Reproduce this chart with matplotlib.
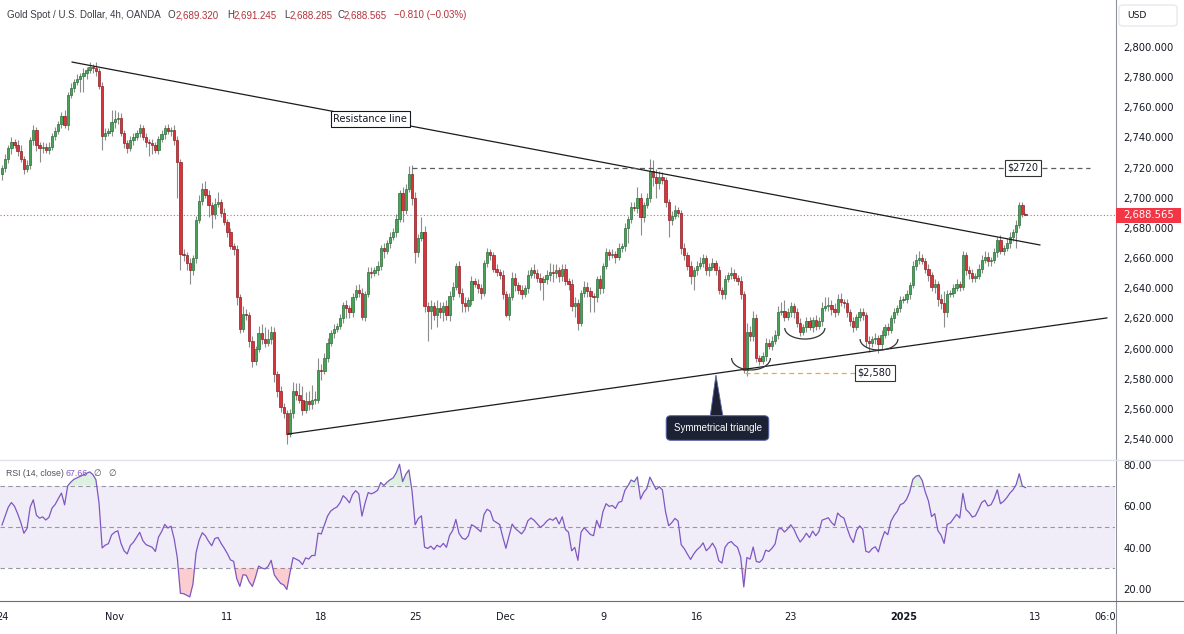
import matplotlib
matplotlib.use('Agg')
import matplotlib.pyplot as plt
import numpy as np
from matplotlib.patches import Arc, Polygon, Rectangle, FancyBboxPatch
from matplotlib.lines import Line2D

plt.rcParams['font.family'] = ['Liberation Sans', 'DejaVu Sans']
AXIS_FONT = ['DejaVu Sans']

# ---------------- data (4h candles, XAU/USD) ----------------
FIRST_OPEN = 2716.0
CLOSES = [
    2720, 2726, 2733, 2737, 2735, 2731, 2726, 2719, 2722, 2738,
    2745, 2735, 2733, 2734, 2732, 2734, 2741, 2744, 2749, 2754,
    2748, 2768, 2773, 2777, 2779, 2781, 2783, 2785, 2787, 2786,
    2784, 2774, 2741, 2743, 2744, 2750, 2752, 2753, 2743, 2736,
    2733, 2738, 2740, 2743, 2746, 2740, 2737, 2736, 2735, 2732,
    2739, 2742, 2746, 2744, 2745, 2738, 2724, 2663, 2662, 2657,
    2652, 2660, 2685, 2698, 2706, 2702, 2695, 2689, 2696, 2697,
    2690, 2684, 2677, 2668, 2666, 2634, 2613, 2623, 2622, 2605,
    2592, 2600, 2610, 2606, 2604, 2606, 2611, 2583, 2572, 2561,
    2557, 2543, 2557, 2572, 2569, 2566, 2559, 2565, 2563, 2566,
    2566, 2586, 2585, 2594, 2604, 2610, 2613, 2615, 2620, 2629,
    2627, 2624, 2634, 2639, 2637, 2621, 2636, 2651, 2650, 2652,
    2655, 2667, 2665, 2670, 2674, 2677, 2686, 2703, 2692, 2706,
    2716, 2700, 2664, 2673, 2677, 2628, 2625, 2628, 2622, 2627,
    2624, 2628, 2622, 2635, 2641, 2655, 2637, 2630, 2628, 2632,
    2645, 2643, 2640, 2637, 2657, 2664, 2662, 2653, 2651, 2649,
    2636, 2622, 2634, 2647, 2642, 2639, 2636, 2640, 2649, 2652,
    2650, 2647, 2644, 2646, 2649, 2651, 2650, 2652, 2648, 2653,
    2645, 2643, 2628, 2630, 2617, 2637, 2641, 2638, 2635, 2634,
    2646, 2640, 2655, 2664, 2662, 2663, 2661, 2667, 2668, 2680,
    2686, 2694, 2693, 2700, 2687, 2695, 2700, 2718, 2714, 2710,
    2714, 2712, 2697, 2685, 2688, 2692, 2690, 2667, 2662, 2655,
    2648, 2652, 2655, 2657, 2660, 2652, 2654, 2657, 2652, 2639,
    2636, 2646, 2649, 2650, 2647, 2645, 2636, 2586, 2611, 2608,
    2620, 2594, 2592, 2595, 2604, 2602, 2605, 2609, 2624, 2625,
    2621, 2624, 2628, 2624, 2617, 2611, 2614, 2618, 2614, 2619,
    2615, 2618, 2627, 2628, 2629, 2626, 2624, 2633, 2631, 2630,
    2624, 2618, 2614, 2621, 2624, 2622, 2605, 2604, 2606, 2607,
    2603, 2609, 2614, 2612, 2620, 2624, 2627, 2632, 2633, 2636,
    2642, 2655, 2659, 2660, 2658, 2653, 2649, 2641, 2643, 2633,
    2630, 2624, 2636, 2637, 2640, 2643, 2641, 2662, 2652, 2650,
    2647, 2648, 2653, 2659, 2661, 2658, 2659, 2664, 2672, 2665,
    2667, 2670, 2674, 2677, 2682, 2695, 2689.32, 2688.565,
]
UPPER_WICK = [
    2, 3, 2, 3, 2, 3, 4, 2, 3, 2,
    3, 2, 2, 3, 2, 3, 2, 3, 2, 3,
    4, 2, 3, 2, 3, 2, 3, 2, 3, 2,
    4, 2, 3, 3, 2, 8, 6, 4, 3, 2,
    2, 3, 3, 2, 3, 2, 3, 2, 3, 2,
    2, 3, 2, 3, 2, 3, 3, 2, 3, 2,
    3, 2, 3, 4, 4, 5, 3, 2, 4, 7,
    2, 3, 2, 3, 2, 3, 2, 5, 3, 2,
    3, 2, 5, 6, 8, 7, 4, 3, 2, 3,
    3, 2, 3, 6, 5, 8, 9, 6, 7, 10,
    6, 8, 4, 3, 3, 2, 3, 2, 3, 2,
    3, 2, 3, 3, 4, 3, 2, 3, 3, 2,
    3, 2, 3, 2, 3, 3, 3, 2, 4, 3,
    5, 6, 4, 3, 10, 4, 3, 4, 3, 5,
    4, 3, 4, 3, 3, 2, 3, 3, 4, 2,
    3, 2, 3, 3, 2, 3, 2, 2, 3, 2,
    3, 2, 3, 4, 3, 2, 3, 2, 3, 2,
    4, 3, 3, 2, 3, 6, 5, 4, 2, 3,
    3, 2, 3, 4, 3, 2, 4, 3, 3, 2,
    2, 3, 2, 3, 2, 3, 2, 3, 2, 3,
    2, 3, 3, 7, 3, 2, 3, 8, 7, 5,
    4, 3, 2, 2, 3, 3, 2, 2, 3, 2,
    3, 2, 3, 4, 3, 2, 3, 3, 2, 3,
    2, 3, 2, 4, 3, 2, 3, 2, 6, 4,
    5, 3, 2, 3, 3, 2, 3, 3, 4, 6,
    7, 3, 3, 2, 3, 3, 2, 3, 3, 2,
    3, 3, 4, 6, 5, 3, 4, 3, 4, 2,
    3, 2, 3, 2, 3, 3, 2, 3, 2, 3,
    2, 3, 2, 3, 2, 3, 2, 3, 2, 3,
    2, 3, 4, 5, 3, 2, 3, 2, 3, 2,
    3, 8, 3, 2, 3, 3, 2, 3, 2, 3,
    3, 2, 3, 3, 4, 3, 2, 3, 2, 3,
    2, 3, 3, 2, 3, 2, 1.9, 0.7,
]
LOWER_WICK = [
    4, 3, 3, 4, 2, 3, 2, 3, 2, 3,
    3, 4, 9, 3, 2, 3, 2, 3, 2, 3,
    2, 3, 2, 3, 2, 9, 11, 4, 2, 3,
    3, 2, 9, 3, 2, 3, 4, 3, 2, 3,
    3, 2, 3, 2, 3, 2, 3, 8, 6, 2,
    3, 2, 3, 2, 3, 3, 24, 11, 4, 5,
    9, 3, 3, 2, 3, 2, 8, 9, 3, 2,
    3, 2, 3, 2, 4, 5, 3, 2, 3, 4,
    4, 3, 2, 3, 3, 2, 3, 5, 4, 3,
    3, 6, 2, 3, 3, 2, 3, 2, 4, 3,
    3, 2, 6, 2, 3, 2, 3, 2, 2, 3,
    7, 4, 3, 2, 3, 2, 3, 2, 3, 2,
    3, 3, 5, 2, 3, 2, 3, 2, 8, 3,
    2, 5, 7, 3, 2, 4, 20, 12, 3, 8,
    4, 6, 3, 4, 3, 2, 3, 6, 4, 3,
    3, 2, 3, 4, 2, 3, 3, 2, 3, 3,
    3, 1, 3, 2, 4, 3, 3, 2, 3, 2,
    3, 3, 5, 12, 3, 4, 6, 3, 4, 3,
    3, 4, 3, 7, 5, 2, 3, 4, 11, 10,
    3, 4, 3, 2, 3, 2, 4, 2, 3, 3,
    10, 3, 2, 3, 12, 3, 2, 3, 6, 10,
    4, 3, 3, 11, 3, 2, 3, 4, 3, 3,
    5, 9, 3, 2, 3, 3, 4, 2, 3, 3,
    3, 3, 2, 3, 2, 3, 3, 2, 4, 3,
    3, 3, 3, 2, 3, 2, 3, 2, 3, 2,
    3, 2, 3, 4, 3, 3, 2, 3, 2, 3,
    3, 2, 3, 2, 3, 4, 3, 2, 3, 3,
    3, 3, 3, 2, 3, 3, 4, 6, 3, 3,
    6, 3, 2, 3, 2, 3, 2, 3, 2, 3,
    3, 2, 3, 3, 2, 3, 4, 3, 4, 5,
    4, 10, 3, 2, 3, 2, 3, 2, 3, 4,
    3, 3, 2, 3, 2, 3, 3, 2, 3, 2,
    3, 2, 3, 3, 10, 2, 2, 0.3,
]
LAST_PRICE = 2688.565
TIME_TICK_POS = [0, 36, 72, 102, 132, 161, 192, 222, 252, 288, 330, 353.5]
TIME_TICK_LABELS = ['24', 'Nov', '11', '18', '25', 'Dec', '9', '16', '23', '2025', '13', '06:00']
PRICE_TICKS = list(range(2540, 2801, 20))
RSI_TICKS = [20, 40, 60, 80]
HEADER_LABELS = ['O', 'H', 'L', 'C']
HEADER_VALUES = ['2,689.320', '2,691.245', '2,688.285', '2,688.565']
HEADER_CHANGE = '\u22120.810 (\u22120.03%)'
RSI_LAST_TEXT = '67.66'

# drawings (bar index, price)
RESISTANCE = [(22.4, 2790.0), (331.6, 2668.7)]
SUPPORT = [(91.4, 2543.3), (353.0, 2620.3)]
LEVEL_2720 = (2720.0, 131.0, 347.6)
LEVEL_2580 = (2584.0, 237.4, 282.8)

# ---------------- computations ----------------
closes = np.array(CLOSES, float)
n = len(closes)
idx = np.arange(n)
opens = np.concatenate([[FIRST_OPEN], closes[:-1]])
highs = np.maximum(opens, closes) + np.array(UPPER_WICK, float)
lows = np.minimum(opens, closes) - np.array(LOWER_WICK, float)
up = closes >= opens

# Wilder RSI(14)
diff = np.diff(np.concatenate([[FIRST_OPEN], closes]))
ag, al = 2.4, 2.6
rsi = []
for d in diff:
    ag = (ag * 13 + max(d, 0)) / 14
    al = (al * 13 + max(-d, 0)) / 14
    rsi.append(100 - 100 / (1 + ag / al))
rsi = np.array(rsi)

# ---------------- figure ----------------
W, H = 1184, 634
fig = plt.figure(figsize=(W / 100, H / 100), dpi=100)
fig.patch.set_facecolor('white')

def fx(px):
    return px / W

def fy(py):
    return 1 - py / H

XL = (-0.64, 355.6)
ax = fig.add_axes([0, fy(459), fx(1115), 459 / H])
axr = fig.add_axes([0, fy(601), fx(1115), 141 / H])
axt = fig.add_axes([0, 0, fx(1115), 33 / H])

for a in (ax, axr):
    a.set_xlim(*XL)
    for s in a.spines.values():
        s.set_visible(False)
    a.set_xticks([])
    a.yaxis.tick_right()
    a.tick_params(axis='y', length=0, pad=6.3, labelsize=7.2, labelcolor='#131722')

ax.set_ylim(2526.74, 2831.17)
axr.set_ylim(14.2, 82.42)

# candles
GREEN_FC, GREEN_EC = '#46a358', '#2c6e39'
RED_FC, RED_EC = '#d8343c', '#8e1f24'
ax.vlines(idx, lows, highs, color='#8c8c8c', lw=0.8, zorder=2)
body_bottom = np.minimum(opens, closes)
body_h = np.maximum(np.abs(closes - opens), 0.5)
ax.bar(idx[up], body_h[up], bottom=body_bottom[up], width=0.74,
       color=GREEN_FC, edgecolor=GREEN_EC, linewidth=0.5, zorder=3)
ax.bar(idx[~up], body_h[~up], bottom=body_bottom[~up], width=0.74,
       color=RED_FC, edgecolor=RED_EC, linewidth=0.5, zorder=3)

ax.set_yticks(PRICE_TICKS)
ax.set_yticklabels([f'{v:,.3f}' for v in PRICE_TICKS], family=AXIS_FONT)

# last price dotted line
ax.axhline(LAST_PRICE, color='#f7525f', lw=0.8, ls=(0, (1, 2)), zorder=1)

# trend lines
ax.plot(*zip(*RESISTANCE), color='#1b1b1b', lw=0.9, zorder=4)
ax.plot(*zip(*SUPPORT), color='#1b1b1b', lw=0.9, zorder=4)

# horizontal levels
ax.hlines(LEVEL_2720[0], LEVEL_2720[1], LEVEL_2720[2], color='#5d5d5d',
          lw=0.9, linestyles=(0, (4, 3)), zorder=4)
ax.hlines(LEVEL_2580[0], LEVEL_2580[1], LEVEL_2580[2], color='#f5a33a',
          lw=0.9, linestyles=(0, (4, 3)), zorder=4)

# labels
ax.text(117.7, 2752.2, 'Resistance line', ha='center', va='center', fontsize=7.0,
        family=AXIS_FONT, color='#131722', zorder=6,
        bbox=dict(boxstyle='square,pad=0.3', fc='white', ec='#131722', lw=0.8))
ax.text(326.2, 2720.0, '$2720', ha='center', va='center', fontsize=7.0,
        family=AXIS_FONT, color='#131722', zorder=6,
        bbox=dict(boxstyle='square,pad=0.3', fc='white', ec='#333333', lw=0.8))
ax.text(278.8, 2584.0, '$2,580', ha='center', va='center', fontsize=7.0,
        family=AXIS_FONT, color='#131722', zorder=6,
        bbox=dict(boxstyle='square,pad=0.3', fc='white', ec='#333333', lw=0.8))

# cup arcs
for cx, cy, w, h in [(239.3, 2593.7, 12.4, 15.8), (256.5, 2613.6, 12.8, 14.6),
                     (280.2, 2606.3, 12.1, 14.6)]:
    ax.add_patch(Arc((cx, cy), w, h, theta1=180, theta2=360, color='#333333',
                     lw=0.9, zorder=5))

# callout
CALLOUT_FC = '#1d2134'
ax.add_patch(Polygon([(226.3, 2555.5), (228.1, 2582.4), (230.3, 2555.5)],
                     closed=True, fc=CALLOUT_FC, ec='#5a64a8', lw=0.6, zorder=6))
ax.text(228.6, 2547.3, 'Symmetrical triangle', ha='center', va='center',
        fontsize=7.0, color='white', zorder=7,
        bbox=dict(boxstyle='round,pad=0.75,rounding_size=0.45', fc=CALLOUT_FC,
                  ec='#5a64a8', lw=0.7))

# ---------------- RSI pane ----------------
axr.axhspan(30, 70, color='#7e57c2', alpha=0.1, lw=0, zorder=0)
for lvl in (70, 50, 30):
    axr.axhline(lvl, color='#9598a1', lw=0.8, ls=(0, (4, 3)), zorder=1)
axr.fill_between(idx, 70, rsi, where=rsi > 70, interpolate=True,
                 color='#4caf50', alpha=0.18, lw=0, zorder=1)
axr.fill_between(idx, 30, rsi, where=rsi < 30, interpolate=True,
                 color='#f23645', alpha=0.25, lw=0, zorder=1)
axr.plot(idx, rsi, color='#7e57c2', lw=0.9, zorder=3)
axr.set_yticks(RSI_TICKS)
axr.set_yticklabels([f'{v:.2f}' for v in RSI_TICKS], family=AXIS_FONT)

# ---------------- time axis ----------------
axt.set_xlim(*XL)
axt.set_ylim(0, 1)
axt.axis('off')
for pos, lab in zip(TIME_TICK_POS, TIME_TICK_LABELS):
    axt.text(pos, 0.5, lab, ha='center', va='center', fontsize=7.0,
             family=AXIS_FONT, color='#131722',
             fontweight='bold' if lab == '2025' else 'normal', clip_on=True)

# ---------------- frame lines ----------------
fig.add_artist(Line2D([fx(1115.5)] * 2, [0, 1], color='#8f929a', lw=0.8))
fig.add_artist(Line2D([0, 1], [fy(459.5)] * 2, color='#e0e3eb', lw=1.0))
fig.add_artist(Line2D([0, 1], [fy(601)] * 2, color='#6a6d78', lw=0.8))

# ---------------- header texts ----------------
fig.text(fx(7), fy(15), 'Gold Spot / U.S. Dollar, 4h, OANDA', fontsize=7.0,
         color='#3a3d45', va='center')
RED_TXT = '#b2333a'
for xp, lab, val in zip([168, 227, 284, 337], HEADER_LABELS, HEADER_VALUES):
    t = fig.text(fx(xp), fy(15), lab, fontsize=7.0, color='#3a3d45', va='center')
    fig.add_artist(plt.Annotation(val, xy=(1, 0.5), xycoords=t, ha='left',
                                  va='center', fontsize=7.0, color=RED_TXT))
fig.text(fx(394), fy(15), HEADER_CHANGE, fontsize=7.0, color=RED_TXT, va='center')

fig.text(fx(6), fy(474), 'RSI (14, close)', fontsize=6.3, color='#50535e', va='center')
fig.text(fx(65), fy(474), RSI_LAST_TEXT, fontsize=6.3, color='#7e57c2', va='center')
fig.text(fx(93), fy(474), '\u2205', fontsize=6.3, color='#50535e', va='center')
fig.text(fx(108), fy(474), '\u2205', fontsize=6.3, color='#50535e', va='center')

# USD box
fig.patches.append(FancyBboxPatch((fx(1119), fy(26)), fx(58), 21 / H,
                                  boxstyle='round,pad=0,rounding_size=0.004',
                                  transform=fig.transFigure, fc='white',
                                  ec='#e0e3eb', lw=0.8))
fig.text(fx(1127), fy(15.5), 'USD', fontsize=6.6, family=AXIS_FONT,
         color='#131722', va='center')

# last price tag
fig.patches.append(Rectangle((fx(1116), fy(222.5)), fx(65), 15 / H,
                             transform=fig.transFigure, fc='#f23645', ec='none',
                             zorder=5))
fig.text(fx(1123), fy(215), f'{LAST_PRICE:,.3f}', fontsize=7.2, family=AXIS_FONT,
         color='white', va='center', zorder=6)

fig.savefig('out.png', dpi=100, facecolor='white')
